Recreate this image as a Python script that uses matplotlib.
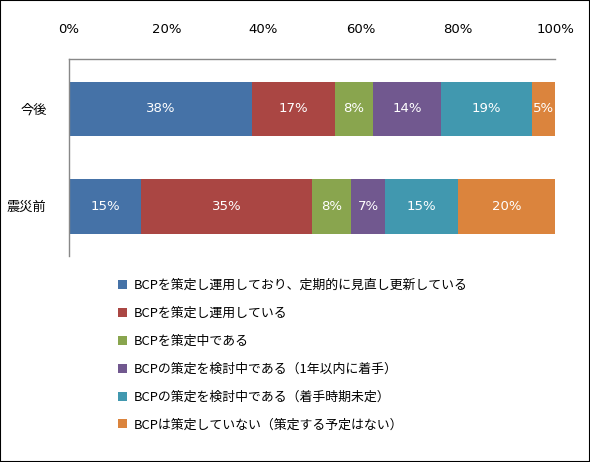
import matplotlib
matplotlib.use("Agg")
import matplotlib.pyplot as plt
from matplotlib.patches import Rectangle

plt.rcParams['font.family'] = ['Noto Sans CJK JP', 'DejaVu Sans']

categories = ['震災前', '今後']
series_names = [
    'BCPを策定し運用しており、定期的に見直し更新している',
    'BCPを策定し運用している',
    'BCPを策定中である',
    'BCPの策定を検討中である（1年以内に着手）',
    'BCPの策定を検討中である（着手時期未定）',
    'BCPは策定していない（策定する予定はない）',
]
# values per series: [震災前, 今後]
values = [
    [14.8, 37.6],
    [35.2, 17.1],
    [8.0, 7.8],
    [7.0, 14.0],
    [15.0, 18.7],
    [20.0, 4.8],
]
tick_labels = ['0%', '20%', '40%', '60%', '80%', '100%']
colors = ['#4572A7', '#AA4643', '#89A54E', '#71588F', '#4198AF', '#DB843D']

fig = plt.figure(figsize=(5.9, 4.62), dpi=100)
ax = fig.add_axes([0.117, 0.446, 0.824, 0.426])

ypos = list(range(len(categories)))
left = [0.0] * len(categories)
for name, vals, c in zip(series_names, values, colors):
    ax.barh(ypos, vals, left=left, height=0.56, color=c, label=name)
    for y, v, l in zip(ypos, vals, left):
        ax.text(l + v / 2, y, f'{round(v):d}%', ha='center', va='center',
                color='white', fontsize=9.5, family=['DejaVu Sans'])
    left = [l + v for l, v in zip(left, vals)]

ax.set_xlim(0, 100)
ax.set_ylim(-0.51, 1.51)
ax.set_xticks([0, 20, 40, 60, 80, 100])
ax.set_xticklabels(tick_labels, fontsize=9.5, family=['DejaVu Sans'])
ax.xaxis.tick_top()
ax.tick_params(axis='x', length=0, pad=17)
ax.set_yticks(ypos)
ax.set_yticklabels(categories, fontsize=9.5)
ax.tick_params(axis='y', length=0, pad=16)
for s in ['right', 'bottom']:
    ax.spines[s].set_visible(False)
for s in ['top', 'left']:
    ax.spines[s].set_color('#888888')
    ax.spines[s].set_linewidth(1.0)

handles, labels = ax.get_legend_handles_labels()
fig.legend(handles, labels, loc='upper left', bbox_to_anchor=(0.192, 0.407),
           frameon=False, fontsize=9.3, handlelength=0.7, handleheight=0.7,
           handletextpad=0.5, labelspacing=1.15, borderaxespad=0)

fig.patches.append(Rectangle((0, 0), 1, 1, transform=fig.transFigure,
                             fill=False, edgecolor='black', linewidth=1.5))

fig.savefig('out.png', dpi=100)
